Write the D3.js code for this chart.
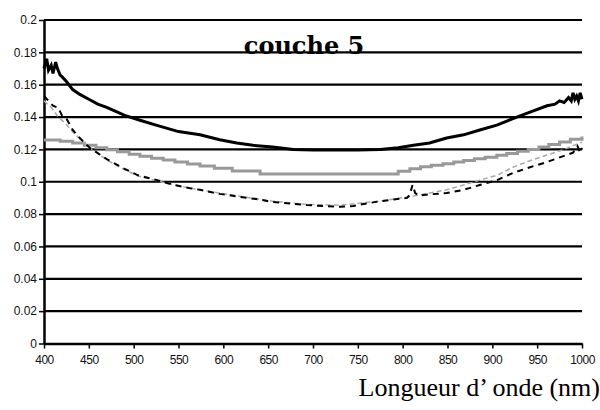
<!DOCTYPE html>
<html><head><meta charset="utf-8">
<script src="https://cdn.jsdelivr.net/npm/d3@7"></script>
<style>html,body{margin:0;padding:0;background:#fff;overflow:hidden}</style>
</head><body><svg id="c" width="600" height="410"></svg>
<script>
const yTicks = [0,0.02,0.04,0.06,0.08,0.1,0.12,0.14,0.16,0.18,0.2];
const xTicks = [400,450,500,550,600,650,700,750,800,850,900,950,1000];
const titleText = "couche 5";
const xTitle = "Longueur d\u2019 onde (nm)";

const blackSolidX = [400,403,405,408,410,413,415,418,420,425,432,440,450,460,470,490,507,525,550,574,596,615,633,655,678,700,725,750,775,795,812,830,849,868,886,905,923,942,961,970,975,980,985,988,990,992,994,996,998,1000];
const blackSolidY = [0.170,0.176,0.169,0.172,0.167,0.174,0.170,0.166,0.165,0.162,0.157,0.154,0.151,0.148,0.146,0.141,0.138,0.135,0.131,0.129,0.126,0.124,0.1225,0.1215,0.1200,0.1197,0.1196,0.1196,0.1200,0.1210,0.1225,0.1240,0.1270,0.1290,0.1320,0.1350,0.1390,0.1430,0.1470,0.1480,0.1500,0.1490,0.1520,0.1500,0.1550,0.1510,0.1530,0.1500,0.1550,0.1510];

const graySolidX = [400,418,432,445,458,470,482,495,507,520,533,546,560,574,590,610,641,780,795,808,820,832,845,857,868,880,892,905,916,928,940,952,963,975,987,1000];
const graySolidY = [0.1258,0.1250,0.1240,0.1225,0.1210,0.1198,0.1185,0.1170,0.1158,0.1145,0.1135,0.1122,0.1110,0.1097,0.1084,0.1066,0.1048,0.1048,0.1065,0.1080,0.1092,0.1102,0.1112,0.1122,0.1132,0.1142,0.1152,0.1164,0.1175,0.1188,0.1200,0.1215,0.1230,0.1245,0.1262,0.1280];

const blackDashX = [400,405,410,416,420,425,432,440,451,470,488,505,526,545,563,574,596,619,640,655,675,693,712,730,745,756,775,790,805,808,811,814,818,830,849,868,886,905,923,942,961,980,990,995,998,1000];
const blackDashY = [0.153,0.150,0.147,0.1456,0.141,0.139,0.132,0.127,0.121,0.114,0.1085,0.104,0.101,0.098,0.096,0.095,0.0925,0.0906,0.089,0.0875,0.0865,0.0856,0.085,0.0845,0.085,0.0862,0.088,0.089,0.090,0.092,0.098,0.093,0.0915,0.0922,0.093,0.095,0.098,0.101,0.1054,0.109,0.1122,0.116,0.118,0.122,0.118,0.121];

const grayDashX = [400,408,416,424,432,451,470,488,505,526,563,596,619,655,693,730,756,775,805,830,849,868,886,905,923,942,961,980,1000];
const grayDashY = [0.150,0.146,0.140,0.136,0.1307,0.121,0.1135,0.108,0.1035,0.1005,0.096,0.093,0.091,0.088,0.086,0.0855,0.087,0.088,0.0905,0.093,0.095,0.098,0.101,0.104,0.109,0.113,0.1165,0.120,0.1245];

const svg = d3.select("#c");
const L = 44, R = 582, T = 20, B = 343.5;
const x = d3.scaleLinear().domain([400,1000]).range([L,R]);
const y = d3.scaleLinear().domain([0,0.2]).range([B,T]);

svg.append("g").selectAll("line").data(yTicks.filter(d=>d>0)).join("line")
  .attr("x1",L).attr("x2",R).attr("y1",d=>y(d)).attr("y2",d=>y(d))
  .attr("stroke","#000").attr("stroke-width",2.2);

const yAxis = svg.append("g").attr("transform",`translate(${L},0)`)
  .call(d3.axisLeft(y).tickValues(yTicks).tickSize(5).tickSizeOuter(0).tickFormat(d=>String(+d.toFixed(2))));
yAxis.select(".domain").attr("stroke","#000").attr("stroke-width",2.5);
yAxis.selectAll(".tick line").attr("stroke","#000").attr("stroke-width",1.5);
yAxis.selectAll(".tick text").attr("font-family","Liberation Sans, Arial, sans-serif").attr("font-size",12).attr("fill","#111").attr("x",-7);

const xAxis = svg.append("g").attr("transform",`translate(0,${B})`)
  .call(d3.axisBottom(x).tickValues(xTicks).tickSize(5).tickSizeOuter(0).tickFormat(d3.format("d")));
xAxis.select(".domain").attr("stroke","#000").attr("stroke-width",2.5);
xAxis.selectAll(".tick line").attr("stroke","#000").attr("stroke-width",1.5);
xAxis.selectAll(".tick text").attr("font-family","Liberation Sans, Arial, sans-serif").attr("font-size",12).attr("fill","#111").attr("y",12).attr("letter-spacing","-0.5");

function mk(xs,ys){ return xs.map((d,i)=>[d,ys[i]]); }
const line = d3.line().x(d=>x(d[0])).y(d=>y(d[1]));
const stepLine = d3.line().x(d=>x(d[0])).y(d=>y(d[1])).curve(d3.curveStepAfter);

svg.append("path").datum(mk(graySolidX,graySolidY)).attr("d",stepLine)
  .attr("fill","none").attr("stroke","#999").attr("stroke-width",3);
svg.append("path").datum(mk(grayDashX,grayDashY)).attr("d",line)
  .attr("fill","none").attr("stroke","#aaa").attr("stroke-width",1.5).attr("stroke-dasharray","5,3");
svg.append("path").datum(mk(blackDashX,blackDashY)).attr("d",line)
  .attr("fill","none").attr("stroke","#000").attr("stroke-width",2).attr("stroke-dasharray","6,5");
svg.append("path").datum(mk(blackSolidX,blackSolidY)).attr("d",line)
  .attr("fill","none").attr("stroke","#000").attr("stroke-width",3);

svg.append("text").attr("x",304).attr("y",54).attr("text-anchor","middle")
  .attr("font-family","DejaVu Serif, serif").attr("font-weight","bold").attr("font-size",24)
  .text(titleText);
svg.append("text").attr("x",600).attr("y",396).attr("text-anchor","end")
  .attr("font-family","Liberation Serif, Times New Roman, serif").attr("font-size",26)
  .text(xTitle);
</script></body></html>
